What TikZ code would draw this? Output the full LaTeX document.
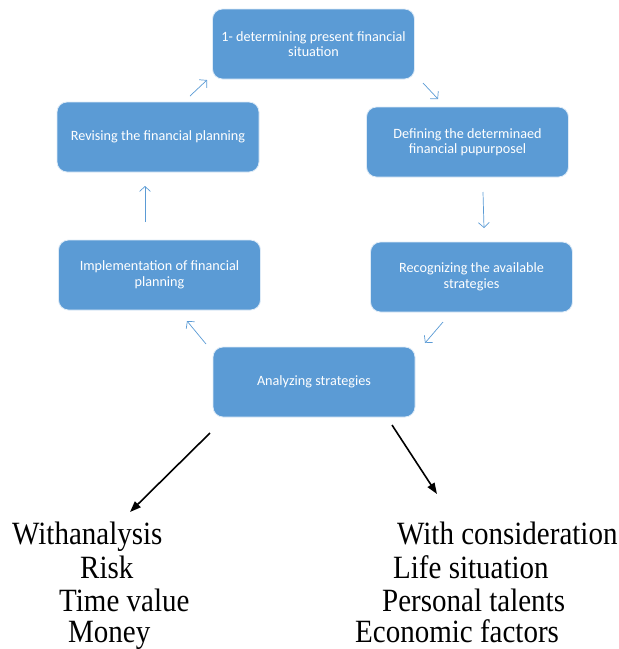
\documentclass[tikz,border=0pt]{standalone}
\usepackage{fontspec}
\usepackage{graphicx}
\setmainfont{Liberation Serif}
\newfontfamily\boxfont{Carlito}
\usetikzlibrary{arrows.meta}
\definecolor{boxblue}{HTML}{5B9BD5}
\newcommand{\tall}[1]{\scalebox{1}[1.12]{#1}}
\begin{document}
\begin{tikzpicture}[x=1pt,y=-1pt,
 stepbox/.style={draw=white!80!boxblue, line width=0.8pt, fill=boxblue, rounded corners=10pt,
   minimum width=202pt, minimum height=70pt, text=white,
   font=\boxfont\fontsize{14.2}{15.5}\selectfont, align=center, inner sep=2pt},
 flow/.style={draw=boxblue, line width=0.7pt, -{Straight Barb[length=5pt,width=11pt]}},
 bigarrow/.style={draw=black, line width=1.6pt, -{Triangle[length=11pt,width=8pt]}},
 txt/.style={anchor=base west, inner sep=0pt, font=\fontsize{29}{33}\selectfont}]
\useasboundingbox (0,0) rectangle (619,649);

% boxes
\node[stepbox] (b1) at (313.5,44) {1- determining present financial\\situation};
\node[stepbox] (b2) at (467.5,142) {Defining the determinaed\\financial pupurposel};
\node[stepbox] (b3) at (471.5,277) {Recognizing the available\\strategies};
\node[stepbox] (b4) at (314,382) {Analyzing strategies};
\node[stepbox] (b5) at (159.5,275) {Implementation of financial\\planning};
\node[stepbox] (b6) at (158,137) {Revising the financial planning};

% cycle arrows
\coordinate (a1s) at (423,83);  \coordinate (a1e) at (438,99);
\coordinate (a2s) at (483,192); \coordinate (a2e) at (484,228);
\coordinate (a3s) at (443,322); \coordinate (a3e) at (425,343);
\coordinate (a4s) at (206,344); \coordinate (a4e) at (187,321);
\coordinate (a5s) at (145,222); \coordinate (a5e) at (145,186);
\coordinate (a6s) at (190,96);  \coordinate (a6e) at (207,80);
\draw[flow] (a1s) -- (a1e);
\draw[flow] (a2s) -- (a2e);
\draw[flow] (a3s) -- (a3e);
\draw[flow] (a4s) -- (a4e);
\draw[flow] (a5s) -- (a5e);
\draw[flow] (a6s) -- (a6e);

% black arrows
\coordinate (l1) at (210,433); \coordinate (l2) at (130,512);
\coordinate (r1) at (392,425); \coordinate (r2) at (437,494);
\draw[bigarrow] (l1) -- (l2);
\draw[bigarrow] (r1) -- (r2);

% texts
\node[txt] (t1) at (12,544) {\tall{Withanalysis}};
\node[txt] (t2) at (80,578) {\tall{Risk}};
\node[txt] (t3) at (59,611) {\tall{Time value}};
\node[txt] (t4) at (68,642) {\tall{Money}};
\node[txt] (t5) at (397,544) {\tall{With consideration}};
\node[txt] (t6) at (393,578) {\tall{Life situation}};
\node[txt] (t7) at (382,611) {\tall{Personal talents}};
\node[txt] (t8) at (355,642) {\tall{Economic factors}};
\end{tikzpicture}
\end{document}
